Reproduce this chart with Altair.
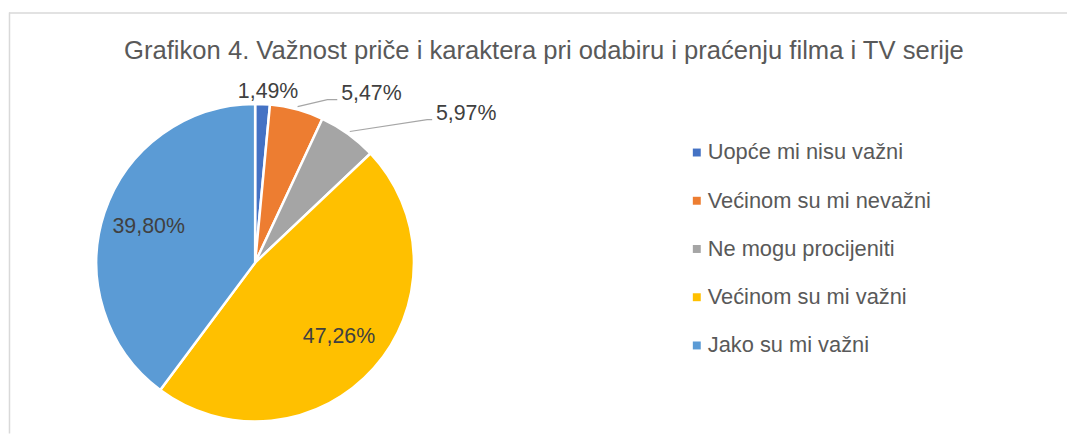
import math
import altair as alt
import pandas as pd

# ---- data ----
categories = ["Uopće mi nisu važni", "Većinom su mi nevažni", "Ne mogu procijeniti",
              "Većinom su mi važni", "Jako su mi važni"]
values = [1.49, 5.47, 5.97, 47.26, 39.80]
labels = ["1,49%", "5,47%", "5,97%", "47,26%", "39,80%"]
colors = ["#4472C4", "#ED7D31", "#A5A5A5", "#FFC000", "#5B9BD5"]
title_text = "Grafikon 4. Važnost priče i karaktera pri odabiru i praćenju filma i TV serije"

# ---- layout / style ----
W, H = 1066, 424
CX, CY, R = 248, 252, 160
FONT = "Liberation Sans"
TXT = "#595959"
LBL = "#404040"

df = pd.DataFrame({"cat": categories, "value": values, "label": labels,
                   "order": list(range(len(categories)))})

base = alt.Chart(df).encode(
    theta=alt.Theta("value:Q", stack=True),
    order=alt.Order("order:Q"),
    x=alt.value(CX), y=alt.value(CY),
)

pie = base.mark_arc(outerRadius=R, stroke="white", strokeWidth=2.5).encode(
    color=alt.Color("cat:N", sort=categories,
                    scale=alt.Scale(domain=categories, range=colors),
                    legend=alt.Legend(title=None, orient="none", legendX=682, legendY=130,
                                      symbolType="square", symbolSize=64, symbolStrokeWidth=0,
                                      labelFontSize=22, labelFont=FONT, labelColor=TXT,
                                      labelOffset=0, rowPadding=26.6, padding=0,
                                      labelLimit=400))
)

inside = base.mark_text(radius=113, font=FONT, fontSize=21.5, color=LBL,
                        baseline="middle", align="center").encode(
    text=alt.condition(alt.datum.value > 10, alt.Text("label:N"), alt.value(""))
)

# outside labels: (category, radius, dx, dy)
outside_style = [("Uopće mi nisu važni", 172, 5, 0),
                 ("Većinom su mi nevažni", 172, 72, -4),
                 ("Ne mogu procijeniti", 172, 112, -10)]
outside_layers = []
for cat, rad, dx, dy in outside_style:
    outside_layers.append(
        base.mark_text(radius=rad, dx=dx, dy=dy, font=FONT, fontSize=21.5, color=LBL,
                       baseline="middle", align="center").encode(
            text=alt.condition(alt.datum.cat == cat, alt.Text("label:N"), alt.value(""))
        )
    )

# leader lines derived from slice mid-angles
leader_offsets = {"Većinom su mi nevažni": [(30, -7), (40, -7)],
                  "Ne mogu procijeniti": [(78, -12), (83, -12)]}
rows = []
cum = 0.0
total = sum(values)
for cat, v in zip(categories, values):
    mid = (cum + v / 2) / total * 2 * math.pi
    cum += v
    if cat in leader_offsets:
        sx = CX + 163 * math.sin(mid)
        sy = CY - 163 * math.cos(mid)
        rows.append({"cat": cat, "i": 0, "px": sx, "py": sy})
        for k, (ox, oy) in enumerate(leader_offsets[cat]):
            rows.append({"cat": cat, "i": k + 1, "px": sx + ox, "py": sy + oy})
lead_df = pd.DataFrame(rows)
leaders = alt.Chart(lead_df).mark_line(color="#A6A6A6", strokeWidth=1.2).encode(
    x=alt.X("px:Q", scale=None), y=alt.Y("py:Q", scale=None),
    detail="cat:N", order="i:Q"
)

title = alt.Chart(pd.DataFrame({"t": [title_text]})).mark_text(
    font=FONT, fontSize=25.8, color=TXT, align="center", baseline="alphabetic"
).encode(text="t:N", x=alt.value(539), y=alt.value(47))

border_v = alt.Chart(pd.DataFrame({"a": [0]})).mark_rule(color="#D9D9D9", strokeWidth=1.5).encode(
    x=alt.value(0.5), y=alt.value(0), y2=alt.value(H))
border_h = alt.Chart(pd.DataFrame({"a": [0]})).mark_rule(color="#D9D9D9", strokeWidth=1.5).encode(
    x=alt.value(0), x2=alt.value(W), y=alt.value(0.5))

chart = alt.layer(border_v, border_h, title, pie, leaders, inside, *outside_layers).properties(
    width=W, height=H,
    padding={"left": 1, "top": 3, "right": 0, "bottom": 0},
    autosize=alt.AutoSizeParams(type="none"),
).configure_view(stroke=None).resolve_scale(theta="shared")

chart.save("out.html", embed_options={"renderer": "svg", "actions": False})
